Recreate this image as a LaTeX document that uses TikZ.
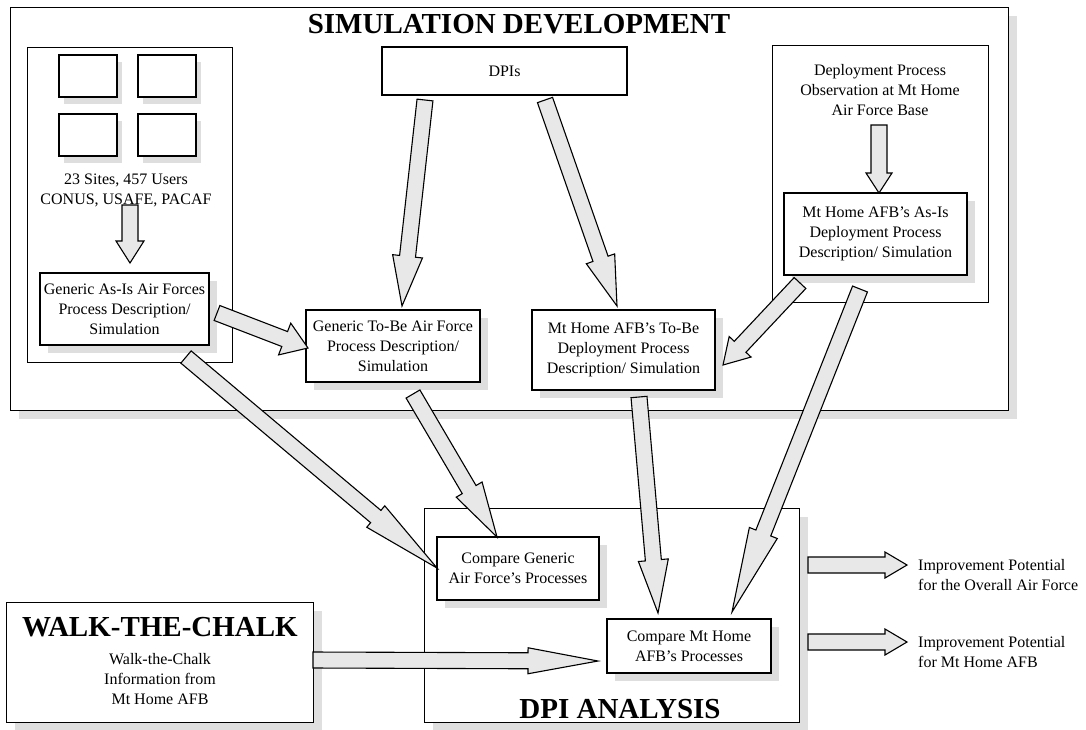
\documentclass[tikz,border=0pt]{standalone}
\usepackage{fontspec}
\setmainfont{Liberation Serif}
\usetikzlibrary{calc, shadows, positioning}
\newcommand{\bodyfont}{\fontsize{16}{20}\selectfont}
\newcommand{\headfont}{\fontsize{29}{34}\selectfont\bfseries}
% fat arrow: [head half width]{tail}{tip}{head length}
\newcommand{\fatarrow}[4][15pt]{%
  \coordinate (fa-base) at ($(#3)!#4!(#2)$);
  \filldraw[fat arrow] ($(#2)!8pt!90:(#3)$) -- ($(fa-base)!8pt!90:(#3)$) -- ($(fa-base)!#1!90:(#3)$) -- (#3)
    -- ($(fa-base)!#1!-90:(#3)$) -- ($(fa-base)!8pt!-90:(#3)$) -- ($(#2)!8pt!-90:(#3)$) -- cycle;
}

\begin{document}
\begin{tikzpicture}[x=1pt, y=-1pt,
    plainbox/.style={draw, line width=1.1pt, fill=white, inner sep=0pt, align=center, font=\bodyfont},
    shaded/.style={plainbox, drop shadow={shadow xshift=8pt, shadow yshift=-8pt, fill=black!25}},
    screen/.style={draw, line width=1.1pt, fill=white, minimum width=58pt, minimum height=42pt,
      drop shadow={shadow xshift=5pt, shadow yshift=-7pt, fill=black!25}},
    txt/.style={inner sep=0pt, align=center, font=\bodyfont},
    headline/.style={inner sep=0pt, font=\headfont},
    fat arrow/.style={draw, line width=1.1pt, fill=black!9, line join=miter},
  ]
  \useasboundingbox (0,0) rectangle (1086,729);

  % Simulation development
  \node[shaded, minimum width=998pt, minimum height=403pt, anchor=north west] (simdev) at (10,7) {};
  \node[headline] (simtitle) at (519,24) {SIMULATION DEVELOPMENT};
  \node[plainbox, minimum width=205pt, minimum height=315pt, anchor=north west] (sites) at (27,47) {};
  \node[screen] (scr1) at (88,76) {};
  \node[screen] (scr2) at (167,76) {};
  \node[screen] (scr3) at (88,135) {};
  \node[screen] (scr4) at (167,135) {};
  \node[txt] (sitestext) at (126,190) {23 Sites, 457 Users\\CONUS, USAFE, PACAF};
  \node[shaded, minimum width=169pt, minimum height=72pt] (asis) at (124.5,309)
    {Generic As-Is Air Forces\\Process Description/\\Simulation};
  \node[plainbox, minimum width=245pt, minimum height=48pt] (dpis) at (504.5,71) {DPIs};
  \node[shaded, minimum width=174pt, minimum height=72pt] (tobe) at (393,346)
    {Generic To-Be Air Force\\Process Description/\\Simulation};
  \node[shaded, minimum width=183pt, minimum height=80pt] (mhtobe) at (623.5,350)
    {Mt Home AFB's To-Be\\Deployment Process\\Description/ Simulation};
  \node[plainbox, minimum width=216pt, minimum height=257pt, anchor=north west] (obs) at (772,45) {};
  \node[txt] (obstext) at (880,90) {Deployment Process\\Observation at Mt Home\\Air Force Base};
  \node[shaded, minimum width=183pt, minimum height=82pt] (mhasis) at (875.5,234)
    {Mt Home AFB's As-Is\\Deployment Process\\Description/ Simulation};

  % DPI analysis
  \node[shaded, minimum width=375pt, minimum height=214pt, anchor=north west] (dpian) at (424,508) {};
  \node[headline] (dpititle) at (620,709) {DPI ANALYSIS};
  \node[shaded, minimum width=162pt, minimum height=63pt] (cmpgen) at (518,568.5)
    {Compare Generic\\Air Force's Processes};
  \node[shaded, minimum width=164pt, minimum height=54pt] (cmpmh) at (689,646)
    {Compare Mt Home\\AFB's Processes};

  % Walk-the-chalk
  \node[shaded, minimum width=307pt, minimum height=120pt, anchor=north west] (walk) at (6,602) {};
  \node[headline] (walktitle) at (160,627) {WALK-THE-CHALK};
  \node[txt] (walktext) at (160,679) {Walk-the-Chalk\\Information from\\Mt Home AFB};

  % Results
  \node[txt, anchor=west, align=left] (outaf) at (918,575) {Improvement Potential\\for the Overall Air Force};
  \node[txt, anchor=west, align=left] (outmh) at (918,652) {Improvement Potential\\for Mt Home AFB};

  % Arrow ends
  \coordinate (sites out) at (130,205);
  \coordinate (asis in) at (130,263);
  \coordinate (dpis out l) at (425,100);
  \coordinate (tobe in t) at (402,306);
  \coordinate (dpis out r) at (545,100);
  \coordinate (mhtobe in t) at (617,306);
  \coordinate (asis out r) at (217,313);
  \coordinate (tobe in l) at (308,348);
  \coordinate (asis out b) at (186,357);
  \coordinate (cmpgen in l) at (437,568);
  \coordinate (tobe out) at (413,394);
  \coordinate (cmpgen in t) at (497,537);
  \coordinate (mhtobe out) at (639,397);
  \coordinate (cmpmh in t) at (658,613);
  \coordinate (mhasis out l) at (800,283);
  \coordinate (mhtobe in r) at (723,365);
  \coordinate (mhasis out b) at (860,289);
  \coordinate (cmpmh in r) at (732,612);
  \coordinate (obs out) at (879,125);
  \coordinate (mhasis in) at (879,193);
  \coordinate (walk out) at (313,660);
  \coordinate (cmpmh in l) at (598,661);
  \coordinate (dpian out t) at (808,565);
  \coordinate (outaf in) at (907,565);
  \coordinate (dpian out b) at (808,642);
  \coordinate (outmh in) at (907,642);

  % Arrows
  \fatarrow[14pt]{sites out}{asis in}{22pt}
  \fatarrow{dpis out l}{tobe in t}{50pt}
  \fatarrow{dpis out r}{mhtobe in t}{50pt}
  \fatarrow[17pt]{asis out r}{tobe in l}{25pt}
  \fatarrow[14pt]{asis out b}{cmpgen in l}{80pt}
  \fatarrow{tobe out}{cmpgen in t}{55pt}
  \fatarrow{mhtobe out}{cmpmh in t}{53pt}
  \fatarrow{mhasis out l}{mhtobe in r}{25pt}
  \fatarrow{mhasis out b}{cmpmh in r}{85pt}
  \fatarrow[13pt]{obs out}{mhasis in}{20pt}
  \fatarrow[13pt]{walk out}{cmpmh in l}{70pt}
  \fatarrow[13pt]{dpian out t}{outaf in}{22pt}
  \fatarrow[13pt]{dpian out b}{outmh in}{22pt}
\end{tikzpicture}
\end{document}
